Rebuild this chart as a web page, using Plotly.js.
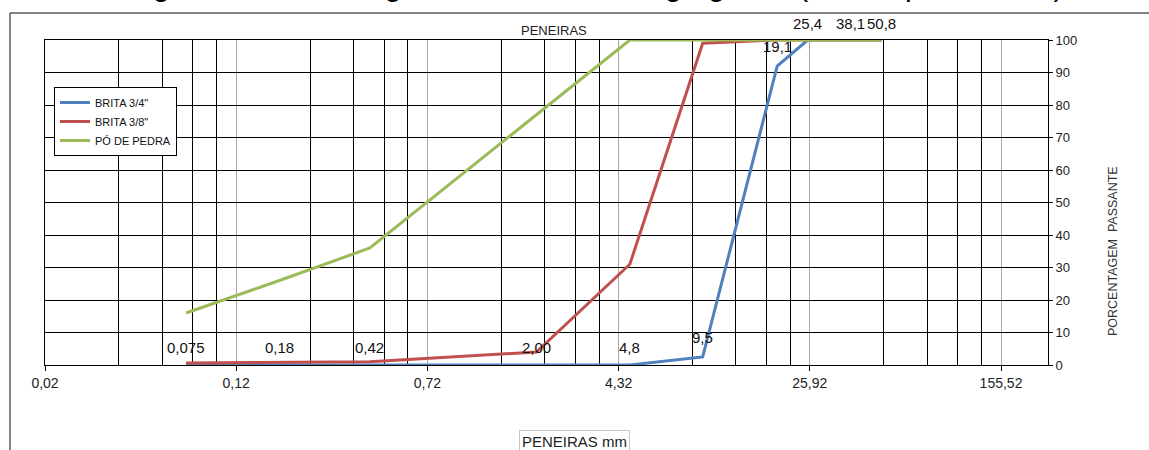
<!DOCTYPE html>
<html>
<head>
<meta charset="utf-8">
<script src="https://cdn.plot.ly/plotly-3.0.1.min.js"></script>
<style>
  html, body { margin: 0; padding: 0; background: #ffffff; }
  #chart { width: 1149px; height: 450px; }
</style>
</head>
<body>
<div id="chart"></div>
<script>
// Sieve openings (mm) and their printed labels
const sieves = [0.075, 0.18, 0.42, 2.00, 4.8, 9.5, 19.1, 25.4, 38.1, 50.8];
const sieveText = ['0,075', '0,18', '0,42', '2,00', '4,8', '9,5', '19,1', '25,4', '38,1', '50,8'];

// Percent passing for each aggregate
const brita34 = [0, 0, 0, 0, 0, 2.5, 92, 100, 100, 100];
const brita38 = [0.6, 0.8, 1, 4, 31, 99, 100, 100, 100, 100];
const poPedra = [16, 26, 36, 77, 100, 100, 100, 100, 100, 100];

// Log axis (base 6) major ticks
const xTickVals = [0.02, 0.12, 0.72, 4.32, 25.92, 155.52];
const xTickText = ['0,02', '0,12', '0,72', '4,32', '25,92', '155,52'];
const yTickVals = [0, 10, 20, 30, 40, 50, 60, 70, 80, 90, 100];

// Minor gridlines: 2..5 times each major step
const xMinorVals = [];
xTickVals.forEach(v => [2, 3, 4, 5].forEach(k => xMinorVals.push(v * k)));

// Vertical placement of the sieve labels (in percent of the plot height)
const labelLevel = [5.5, 5.5, 5.5, 5.5, 5.5, 8.6, 98, 105, 105, 105];

const FONT = 'Liberation Sans, Arial, sans-serif';

// Plot frame in pixels
const L = 45, R = 101, T = 40, B = 85, W = 1149, H = 450;
const pw = W - L - R, ph = H - T - B;
const px = x => (x - L) / pw;
const py = y => (H - B - y) / ph;

const xMax = 0.02 * Math.pow(6, pw / 191.2);

const traces = [
  { name: 'BRITA 3/4"', x: sieves, y: brita34, color: '#4F81BD' },
  { name: 'BRITA 3/8"', x: sieves, y: brita38, color: '#C0504D' },
  { name: 'PÓ DE PEDRA', x: sieves, y: poPedra, color: '#9BBB59' }
].map(s => ({
  type: 'scatter', mode: 'lines', name: s.name, x: s.x, y: s.y,
  line: { color: s.color, width: 3 }, cliponaxis: false
}));

const annotations = sieves.map((v, i) => ({
  x: Math.log10(v), y: labelLevel[i] / 100, xref: 'x', yref: 'paper',
  text: sieveText[i], showarrow: false,
  xanchor: 'center', yanchor: 'middle',
  font: { family: FONT, size: 15, color: '#111' }
}));

annotations.push(
  {
    xref: 'paper', yref: 'paper', x: px(596), y: py(3.5),
    xanchor: 'center', yanchor: 'bottom', showarrow: false,
    text: 'Figura 4.1 – Curva granulométrica dos agregados (ensaio por malhas)',
    font: { family: FONT, size: 30, color: '#000' }
  },
  {
    xref: 'paper', yref: 'paper', x: px(554), y: py(30),
    xanchor: 'center', yanchor: 'middle', showarrow: false,
    text: 'PENEIRAS', font: { family: FONT, size: 13, color: '#222' }
  },
  {
    xref: 'paper', yref: 'paper', x: px(574), y: py(441),
    xanchor: 'center', yanchor: 'middle', showarrow: false,
    text: 'PENEIRAS mm', font: { family: FONT, size: 15, color: '#222' },
    bordercolor: '#c8c8c8', borderwidth: 1, borderpad: 2
  },
  {
    xref: 'paper', yref: 'paper', x: px(1113), y: py(251),
    xanchor: 'center', yanchor: 'middle', showarrow: false, textangle: -90,
    text: 'PORCENTAGEM  PASSANTE', font: { family: FONT, size: 12.5, color: '#333' }
  }
);

const layout = {
  width: W, height: H,
  margin: { l: L, r: R, t: T, b: B, pad: 0 },
  paper_bgcolor: '#ffffff', plot_bgcolor: '#ffffff',
  font: { family: FONT, color: '#222' },
  showlegend: true,
  legend: {
    x: px(54), y: py(87), xanchor: 'left', yanchor: 'top',
    bgcolor: '#ffffff', bordercolor: '#000', borderwidth: 1,
    font: { family: FONT, size: 11, color: '#111' },
    itemwidth: 30, tracegroupgap: 0
  },
  xaxis: {
    type: 'log',
    range: [Math.log10(0.02), Math.log10(xMax)],
    tickmode: 'array', tickvals: xTickVals, ticktext: xTickText,
    ticks: 'outside', ticklen: 5, tickcolor: '#000',
    tickfont: { family: FONT, size: 14, color: '#222' },
    showgrid: true, gridcolor: '#a8a8a8', gridwidth: 1,
    minor: { tickmode: 'array', tickvals: xMinorVals, showgrid: true, gridcolor: '#000', gridwidth: 1, ticks: '' },
    showline: true, linecolor: '#000', linewidth: 1, mirror: true,
    zeroline: false, fixedrange: true
  },
  yaxis: {
    side: 'right', range: [0, 100],
    tickmode: 'array', tickvals: yTickVals,
    ticks: 'outside', ticklen: 4, tickcolor: '#000',
    tickfont: { family: FONT, size: 13, color: '#222' },
    showgrid: true, gridcolor: '#000', gridwidth: 1,
    showline: true, linecolor: '#000', linewidth: 1, mirror: true,
    zeroline: false, fixedrange: true
  },
  annotations: annotations,
  shapes: [
    { type: 'line', xref: 'paper', yref: 'paper', x0: px(10), x1: px(1149), y0: py(13), y1: py(13),
      line: { color: '#5a5a5a', width: 1.5 } },
    { type: 'line', xref: 'paper', yref: 'paper', x0: px(10), x1: px(10), y0: py(13), y1: py(450),
      line: { color: '#5a5a5a', width: 1.5 } }
  ]
};

Plotly.newPlot('chart', traces, layout, { staticPlot: true, displayModeBar: false });
</script>
</body>
</html>
